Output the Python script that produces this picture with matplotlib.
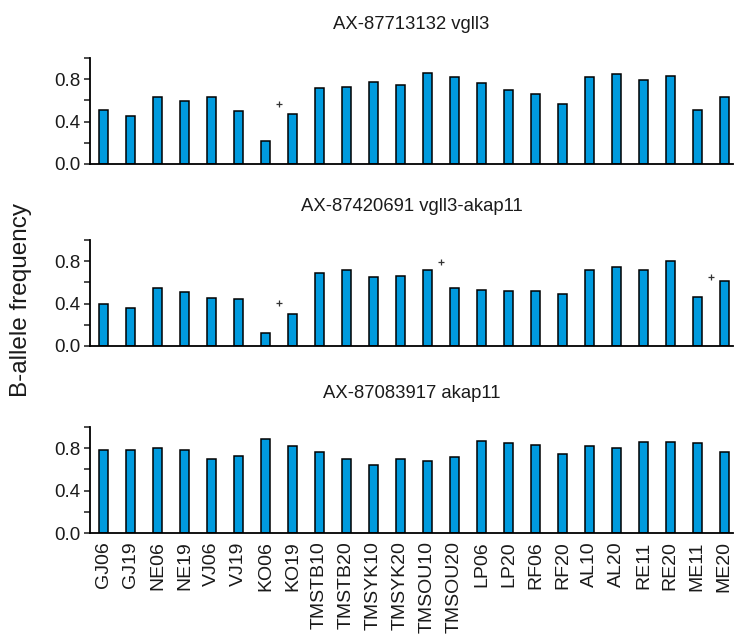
import matplotlib
matplotlib.use("Agg")
import matplotlib.pyplot as plt
from matplotlib.ticker import MultipleLocator, FuncFormatter

plt.rcParams['font.family'] = ['Liberation Sans', 'DejaVu Sans']

samples = ["GJ06", "GJ19", "NE06", "NE19", "VJ06", "VJ19", "KO06", "KO19",
           "TMSTB10", "TMSTB20", "TMSYK10", "TMSYK20", "TMSOU10", "TMSOU20",
           "LP06", "LP20", "RF06", "RF20", "AL10", "AL20", "RE11", "RE20",
           "ME11", "ME20"]

titles = ["AX-87713132 vgll3", "AX-87420691 vgll3-akap11", "AX-87083917 akap11"]

freq_vgll3 = [0.51, 0.45, 0.63, 0.59, 0.63, 0.50, 0.22, 0.47,
              0.72, 0.73, 0.77, 0.75, 0.86, 0.82, 0.76, 0.70,
              0.66, 0.57, 0.82, 0.85, 0.79, 0.83, 0.51, 0.63]
freq_vgll3_akap11 = [0.40, 0.36, 0.55, 0.51, 0.45, 0.44, 0.12, 0.30,
                     0.69, 0.72, 0.65, 0.66, 0.72, 0.55, 0.53, 0.52,
                     0.52, 0.49, 0.72, 0.75, 0.72, 0.80, 0.46, 0.61]
freq_akap11 = [0.78, 0.78, 0.80, 0.78, 0.70, 0.73, 0.89, 0.82,
               0.76, 0.70, 0.64, 0.70, 0.68, 0.72, 0.87, 0.85,
               0.83, 0.75, 0.82, 0.80, 0.86, 0.86, 0.85, 0.76]
series = [freq_vgll3, freq_vgll3_akap11, freq_akap11]

# significant temporal changes: (first sample of the pair, marker height)
sig_vgll3 = [("KO06", 0.565)]
sig_vgll3_akap11 = [("KO06", 0.41), ("TMSOU10", 0.79), ("ME11", 0.65)]
sig_akap11 = []
significance = [sig_vgll3, sig_vgll3_akap11, sig_akap11]

W, H = 734, 641
fig = plt.figure(figsize=(W / 100, H / 100), dpi=100)

bar_color = "#009BDF"
text_color = "#1a1a1a"
left, right = 90 / W, 733 / W
panel_tops = [58, 240, 427]
panel_h = 106

x = list(range(len(samples)))
for i, (vals, title, sig) in enumerate(zip(series, titles, significance)):
    top = panel_tops[i]
    ax = fig.add_axes([left, 1 - (top + panel_h) / H, right - left, panel_h / H])
    ax.bar(x, vals, width=0.34, color=bar_color, edgecolor="black", linewidth=1.1)
    for name, yv in sig:
        xi = samples.index(name) + 0.5
        ax.plot(xi, yv, marker="+", color="#333333", markersize=4, mew=0.9)
    ax.set_xlim(-0.5, len(samples) - 0.68)
    ax.set_ylim(0, 1.0)
    ax.yaxis.set_major_locator(MultipleLocator(0.4))
    ax.yaxis.set_minor_locator(MultipleLocator(0.2))
    ax.yaxis.set_major_formatter(FuncFormatter(lambda v, p: f"{v:.1f}"))
    ax.tick_params(axis="y", which="both", direction="out", length=4, width=1.1,
                   labelsize=13.5, colors=text_color, pad=3)
    ax.tick_params(axis="x", length=0)
    for s in ("top", "right"):
        ax.spines[s].set_visible(False)
    for s in ("left", "bottom"):
        ax.spines[s].set_linewidth(1.3)
        ax.spines[s].set_color("black")
    ax.set_title(title, fontsize=13.3, color=text_color, pad=21)
    ax.set_xticks(x)
    if i == 2:
        ax.set_xticklabels(samples, rotation=90, fontsize=14, color=text_color)
        ax.tick_params(axis="x", pad=6)
    else:
        ax.set_xticklabels([])

fig.text(21 / W, 1 - 300 / H, "B-allele frequency", rotation=90, ha="center",
         va="center", fontsize=17.5, color=text_color)

fig.savefig("out.png", dpi=100)
